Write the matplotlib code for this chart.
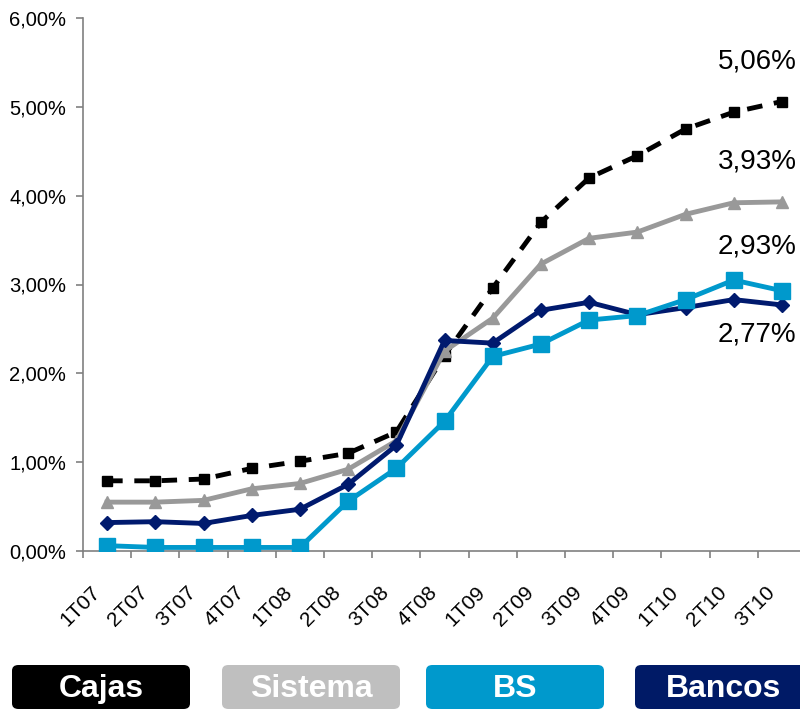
import matplotlib
matplotlib.use('Agg')
import matplotlib.pyplot as plt
from matplotlib.patches import FancyBboxPatch
import numpy as np

plt.rcParams['font.family'] = ['Liberation Sans', 'DejaVu Sans']

# quarters and ratios (%)
quarters = ['1T07', '2T07', '3T07', '4T07', '1T08', '2T08', '3T08', '4T08',
            '1T09', '2T09', '3T09', '4T09', '1T10', '2T10', '3T10']
cajas = [0.79, 0.79, 0.81, 0.93, 1.01, 1.10, 1.34, 2.20, 2.96, 3.70, 4.20, 4.45, 4.75, 4.94, 5.06]
sistema = [0.55, 0.55, 0.57, 0.70, 0.76, 0.92, 1.24, 2.25, 2.62, 3.23, 3.52, 3.59, 3.79, 3.92, 3.93]
bs = [0.06, 0.04, 0.04, 0.04, 0.04, 0.56, 0.93, 1.46, 2.19, 2.33, 2.60, 2.65, 2.83, 3.05, 2.93]
bancos = [0.32, 0.33, 0.31, 0.40, 0.47, 0.75, 1.19, 2.37, 2.34, 2.71, 2.80, 2.66, 2.74, 2.83, 2.77]

names = ['Cajas', 'Sistema', 'BS', 'Bancos']
box_colors = ['#000000', '#bfbfbf', '#0099cc', '#001a66']

def pct(v):
    return ('%.2f' % v).replace('.', ',') + '%'

fig = plt.figure(figsize=(8, 7.09), dpi=100)
ax = fig.add_axes([83/800, 158/709, 723/800, 533/709])

x = np.arange(len(quarters))
ax.plot(x, cajas, color='black', lw=3.5, ls=(0, (3.2, 2.4)), marker='s', ms=7.5, zorder=3)
ax.plot(x, sistema, color='#999999', lw=3.5, marker='^', ms=9, zorder=4)
ax.plot(x, bancos, color='#001a6e', lw=3.5, marker='D', ms=7, zorder=5)
ax.plot(x, bs, color='#0099cc', lw=3.5, marker='s', ms=12, zorder=6)

# end values
for vals, dy in [(cajas, 40), (sistema, 40), (bs, 44), (bancos, -30)]:
    ax.annotate(pct(vals[-1]), xy=(x[-1], vals[-1]), xytext=(-25, dy),
                textcoords='offset pixels', ha='center', va='center',
                fontsize=20, color='black')

ax.set_xlim(-0.5, len(quarters) - 0.5)
ax.set_ylim(0, 6)
ax.set_yticks(np.arange(0, 7, 1))
ax.set_yticklabels([pct(v) for v in range(7)], fontsize=14.5)

# labels sit a bit left of each point, tick marks on the category edges
ax.set_xticks(x - 0.35)
ax.set_xticklabels(quarters, rotation=45, ha='right', rotation_mode='anchor', fontsize=15)
ax.set_xticks(np.arange(-0.5, len(quarters), 1), minor=True)
ax.tick_params(axis='x', which='major', length=0, pad=23)
ax.tick_params(axis='x', which='minor', length=5, color='#808080', width=1.2)
ax.tick_params(axis='y', length=5, color='#808080', width=1.2, pad=7)

for s in ['top', 'right']:
    ax.spines[s].set_visible(False)
for s in ['left', 'bottom']:
    ax.spines[s].set_color('#808080')
    ax.spines[s].set_linewidth(1.2)

# legend boxes along the bottom
box_x = [12, 222, 426, 635]
for nm, col, bx in zip(names, box_colors, box_x):
    p = FancyBboxPatch((bx/800, 0), 178/800, 44/709,
                       boxstyle='round,pad=0,rounding_size=0.008',
                       transform=fig.transFigure, facecolor=col, edgecolor='none')
    fig.patches.append(p)
    fig.text((bx + 89)/800, 20/709, nm, color='white', fontsize=23, fontweight='bold',
             ha='center', va='center')

fig.savefig('out.png', dpi=100)
